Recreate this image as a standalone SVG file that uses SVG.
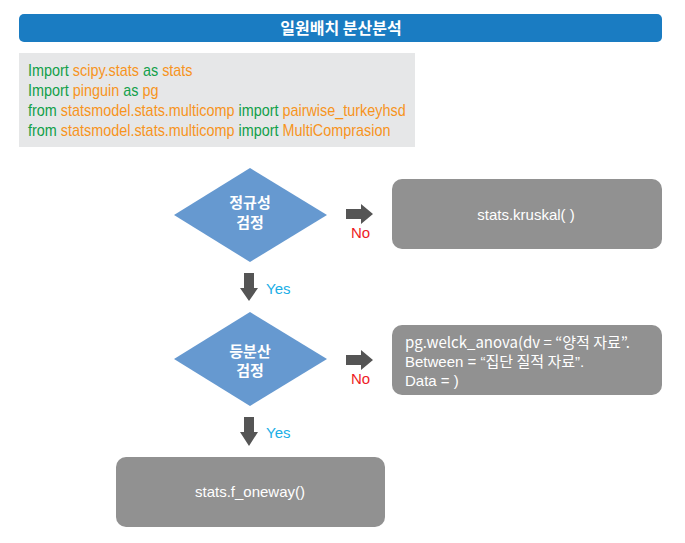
<svg xmlns="http://www.w3.org/2000/svg" width="685" height="543" viewBox="0 0 685 543">
<style>
.t{font-family:"Liberation Sans",Arial,sans-serif;}
.kr{font-family:"Noto Sans CJK KR","Noto Sans",sans-serif;}
.g{fill:#12a04a}
.o{fill:#f7941d}
.box{fill:#919191}
.dia{fill:#6699d0}
.arr{fill:#555555}
.wt{fill:#ffffff;font-size:15px}
.no{fill:#ee1c25;font-size:15px}
.yes{fill:#1aaee6;font-size:15px}
.code{font-size:16px}
</style>
<rect width="685" height="543" fill="#ffffff"/>
<g id="title">
<rect x="19" y="14" width="643" height="28" rx="5" fill="#1a7cc2"/>
<text x="341" y="34" text-anchor="middle" class="kr" font-size="16" font-weight="bold" fill="#ffffff">일원배치 분산분석</text>
</g>
<g id="code">
<rect x="19" y="53" width="396" height="94" fill="#e6e7e8"/>
<g transform="translate(28 0) scale(0.9 1)">
<text class="t code" x="0" y="76"><tspan class="g">Import </tspan><tspan class="o">scipy.stats </tspan><tspan class="g">as </tspan><tspan class="o">stats</tspan></text>
<text class="t code" x="0" y="96"><tspan class="g">Import </tspan><tspan class="o">pinguin </tspan><tspan class="g">as </tspan><tspan class="o">pg</tspan></text>
<text class="t code" x="0" y="116"><tspan class="g">from </tspan><tspan class="o">statsmodel.stats.multicomp </tspan><tspan class="g">import </tspan><tspan class="o">pairwise_turkeyhsd</tspan></text>
<text class="t code" x="0" y="136"><tspan class="g">from </tspan><tspan class="o">statsmodel.stats.multicomp </tspan><tspan class="g">import </tspan><tspan class="o">MultiComprasion</tspan></text>
</g>
</g>
<g id="normality">
<polygon class="dia" points="250,168 327,215 250,262 174,215"/>
<text class="kr wt" x="250" y="208" text-anchor="middle" font-weight="bold">정규성</text>
<text class="kr wt" x="250" y="228" text-anchor="middle" font-weight="bold">검정</text>
</g>
<g id="kruskal">
<rect class="box" x="392" y="179" width="270" height="70" rx="10"/>
<text class="t wt" x="526" y="220" text-anchor="middle">stats.kruskal( )</text>
</g>
<g id="variance">
<polygon class="dia" points="250,312 327,359 250,406 174,359"/>
<text class="kr wt" x="250" y="357" text-anchor="middle" font-weight="bold">등분산</text>
<text class="kr wt" x="250" y="376" text-anchor="middle" font-weight="bold">검정</text>
</g>
<g id="welch">
<rect class="box" x="392" y="325" width="270" height="70" rx="10"/>
<text class="t wt" x="405" y="348"><tspan class="kr">pg.welck_anova(dv = “양적 자료”.</tspan></text>
<text class="t wt" x="405" y="367">Between = “<tspan class="kr">집단 질적 자료</tspan>”.</text>
<text class="t wt" x="405" y="386">Data = )</text>
</g>
<g id="oneway">
<rect class="box" x="116" y="457" width="269" height="70" rx="10"/>
<text class="t wt" x="250" y="497" text-anchor="middle">stats.f_oneway()</text>
</g>
<g id="connectors">
<path class="arr" d="M346,209 H361 V204 L373,214 L361,224 V219 H346 Z"/>
<text class="t no" x="351" y="238">No</text>
<path class="arr" d="M346,355 H361 V350 L373,360 L361,370 V365 H346 Z"/>
<text class="t no" x="351" y="384">No</text>
<path class="arr" d="M244,273 H254 V288 H258 L249,301 L240,288 H244 Z"/>
<text class="t yes" x="266" y="294">Yes</text>
<path class="arr" d="M244,417 H254 V432 H258 L249,446 L240,432 H244 Z"/>
<text class="t yes" x="266" y="438">Yes</text>
</g>
</svg>
